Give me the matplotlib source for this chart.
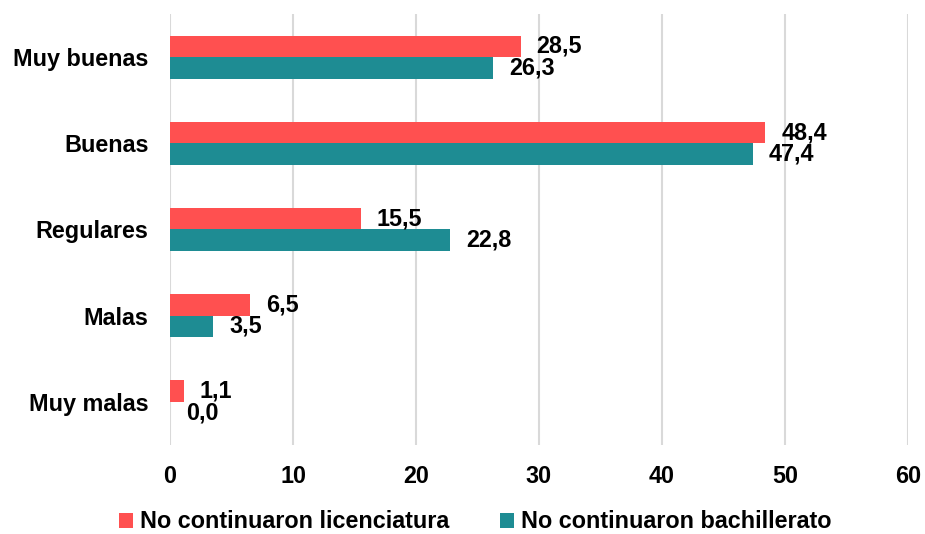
import matplotlib
matplotlib.use("Agg")
import matplotlib.pyplot as plt
import numpy as np

categories = ["Muy buenas", "Buenas", "Regulares", "Malas", "Muy malas"]
licenciatura = [28.5, 48.4, 15.5, 6.5, 1.1]
bachillerato = [26.3, 47.4, 22.8, 3.5, 0.0]
series_names = ["No continuaron licenciatura", "No continuaron bachillerato"]
xticks = [0, 10, 20, 30, 40, 50, 60]

plt.rcParams['font.family'] = ['Liberation Sans', 'DejaVu Sans']
plt.rcParams['font.weight'] = 'bold'

red = "#FF5050"
teal = "#1E8C93"
FS = 16.8

fig = plt.figure(figsize=(9.25, 5.34), dpi=100)
ax = fig.add_axes([0.1838, 0.1667, 0.7978, 0.8071])

y = np.arange(len(categories))
h = 0.25
b1 = ax.barh(y - h / 2, licenciatura, height=h, color=red, label=series_names[0], zorder=3)
b2 = ax.barh(y + h / 2, bachillerato, height=h, color=teal, label=series_names[1], zorder=3)

def fmt(v):
    return f"{v:.1f}".replace(".", ",")

for bars, vals in ((b1, licenciatura), (b2, bachillerato)):
    for bar, v in zip(bars, vals):
        ax.annotate(fmt(v), (bar.get_width(), bar.get_y() + bar.get_height() / 2),
                    xytext=(11.5, 0), textcoords="offset points", ha="left", va="center",
                    fontsize=FS, fontweight="bold", color="black")

ax.set_xlim(0, 60)
ax.set_ylim(len(categories) - 0.5, -0.5)
ax.set_xticks(xticks)
ax.set_xticklabels([str(t) for t in xticks], fontsize=FS, fontweight="bold")
ax.set_yticks(y)
ax.set_yticklabels(categories, fontsize=FS, fontweight="bold")
ax.tick_params(axis="both", length=0)
ax.tick_params(axis="x", pad=14.5)
ax.tick_params(axis="y", pad=15.5)
ax.grid(axis="x", color="#D9D9D9", linewidth=1.5, zorder=0)
for s in ax.spines.values():
    s.set_visible(False)

leg = fig.legend(handles=[b1, b2], labels=series_names, loc="center",
                 bbox_to_anchor=(0.514, 0.0225), ncol=2, frameon=False,
                 fontsize=FS, handlelength=0.6, handleheight=0.6,
                 handletextpad=0.3, columnspacing=2.2, borderpad=0)
for t in leg.get_texts():
    t.set_fontweight("bold")

fig.savefig("out.png", dpi=100)
